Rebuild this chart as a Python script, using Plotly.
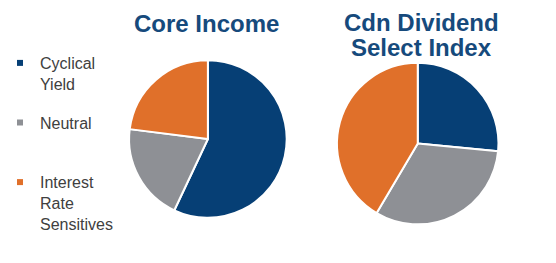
import plotly.graph_objects as go

labels = ["Cyclical<br>Yield", "Neutral<br>&nbsp;", "Interest<br>Rate<br>Sensitives"]
core_income = [57, 20, 23]
cdn_dividend = [26.5, 32, 41.5]
title_left = ["Core Income"]
title_right = ["Cdn Dividend", "Select Index"]
colors = ["#063f75", "#8e9095", "#e0702a"]

fig = go.Figure()
fig.add_trace(go.Pie(
    labels=labels, values=core_income, sort=False, direction="clockwise",
    marker=dict(colors=colors, line=dict(color="white", width=2)),
    textinfo="none", domain=dict(x=[0.228, 0.513], y=[0.171, 0.772]),
    hoverinfo="label+percent", showlegend=False,
))
fig.add_trace(go.Pie(
    labels=labels, values=cdn_dividend, sort=False, direction="clockwise",
    marker=dict(colors=colors, line=dict(color="white", width=2)),
    textinfo="none", domain=dict(x=[0.604, 0.896], y=[0.146, 0.762]),
    hoverinfo="label+percent", showlegend=False,
))

# legend entries (small square symbols as in the reference)
for i, (lab, col) in enumerate(zip(labels, colors)):
    fig.add_trace(go.Scatter(
        x=[None], y=[None], mode="markers", name=lab, legendgroup=f"g{i}",
        marker=dict(symbol="square", size=6, color=col),
    ))

title_font = dict(family="Liberation Sans, Arial", size=24, color="#164a7c")
for j, line in enumerate(title_left):
    fig.add_annotation(text="<b>" + line + "</b>", x=205 / 556, y=1 - (23.5 + 25 * j) / 263,
                       xref="paper", yref="paper", showarrow=False,
                       xanchor="center", yanchor="middle", font=title_font)
for j, line in enumerate(title_right):
    fig.add_annotation(text="<b>" + line + "</b>", x=421 / 556, y=1 - (22.5 + 25 * j) / 263,
                       xref="paper", yref="paper", showarrow=False,
                       xanchor="center", yanchor="middle", font=title_font)

fig.update_layout(
    width=556, height=263,
    margin=dict(l=0, r=0, t=0, b=0),
    paper_bgcolor="white", plot_bgcolor="white",
    xaxis=dict(visible=False), yaxis=dict(visible=False),
    legend=dict(x=-3 / 556, y=1 - 46 / 263, xanchor="left", yanchor="top", valign="top",
                font=dict(family="Liberation Sans, Arial", size=16, color="#404040"),
                itemwidth=30, tracegroupgap=15, bgcolor="rgba(0,0,0,0)"),
)

fig.write_html("out.html")
